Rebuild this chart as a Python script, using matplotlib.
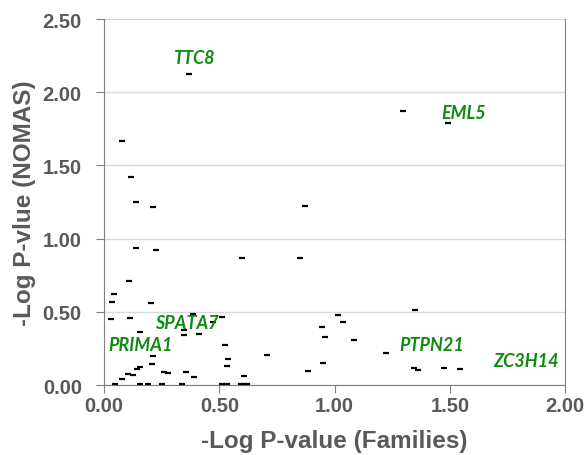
import matplotlib.pyplot as plt

# -log p-values
fam = [0.14, 0.227, 0.60, 0.106, 0.042, 0.036, 0.204, 0.032, 0.114, 0.385,
       0.51, 0.474, 0.158, 0.345, 0.345, 0.413, 0.526, 0.211, 0.536, 0.206,
       0.533, 0.154, 0.144, 0.104, 0.125, 0.079, 0.261, 0.279, 0.356, 0.39,
       0.608, 0.046, 0.154, 0.19, 0.252, 0.339, 0.51, 0.533, 0.594, 0.622,
       0.37, 0.079, 0.118, 0.137, 0.212,
       0.85, 1.014, 1.035, 0.945, 0.957, 1.083, 0.709, 1.223, 0.95, 0.883,
       1.297, 0.87, 1.491, 1.35, 1.343, 1.36, 1.476, 1.542]
nomas = [0.936, 0.924, 0.867, 0.708, 0.624, 0.569, 0.558, 0.449, 0.458, 0.485,
         0.467, 0.432, 0.36, 0.376, 0.344, 0.348, 0.271, 0.196, 0.178, 0.146,
         0.13, 0.121, 0.111, 0.075, 0.068, 0.043, 0.087, 0.08, 0.089, 0.055,
         0.061, 0.01, 0.01, 0.01, 0.01, 0.01, 0.01, 0.01, 0.01, 0.01,
         2.124, 1.665, 1.42, 1.248, 1.218,
         0.867, 0.478, 0.428, 0.394, 0.328, 0.305, 0.205, 0.216, 0.148, 0.093,
         1.874, 1.22, 1.787, 0.514, 0.116, 0.105, 0.116, 0.109]

genes = ["TTC8", "EML5", "SPATA7", "PRIMA1", "PTPN21", "ZC3H14"]
gene_x = [0.39, 1.56, 0.36, 0.16, 1.42, 1.83]
gene_y = [2.24, 1.86, 0.43, 0.28, 0.28, 0.165]

grey = "#595959"

fig = plt.figure(figsize=(5.88, 4.56), dpi=100)
ax = fig.add_axes([0.177, 0.1535, 0.784, 0.8025])

ax.plot(fam, nomas, linestyle="none", marker="_", markersize=5,
        markeredgewidth=1.6, color="black", zorder=3)

for g, gx, gy in zip(genes, gene_x, gene_y):
    ax.text(gx, gy, g, color="#108a10", fontsize=13, fontweight="bold",
            fontstyle="italic", family=["Lato", "DejaVu Sans"],
            ha="center", va="center", zorder=4)

ax.set_xlim(0, 2)
ax.set_ylim(0, 2.5)
ax.set_xticks([0, 0.5, 1, 1.5, 2])
ax.set_yticks([0, 0.5, 1, 1.5, 2, 2.5])
ax.set_xticklabels(["0.00", "0.50", "1.00", "1.50", "2.00"])
ax.set_yticklabels(["0.00", "0.50", "1.00", "1.50", "2.00", "2.50"])
ax.yaxis.grid(True, color="#d9d9d9", linewidth=1)
ax.set_axisbelow(True)

for s in ["left", "bottom", "right"]:
    ax.spines[s].set_color("#7f7f7f")
ax.spines["top"].set_visible(False)
ax.tick_params(direction="out", length=6, color="#7f7f7f", labelcolor=grey,
               labelsize=14.5)
ax.tick_params(axis="x", pad=2)
ax.tick_params(axis="y", pad=10)
for lab in ax.get_xticklabels() + ax.get_yticklabels():
    lab.set_fontweight("bold")
    lab.set_family("Liberation Sans")

ax.set_xlabel("-Log P-value (Families)", fontsize=17.5, fontweight="bold",
              color=grey, family="Liberation Sans", labelpad=10)
ax.set_ylabel("-Log P-vlue (NOMAS)", fontsize=17.5, fontweight="bold",
              color=grey, family="Liberation Sans", labelpad=5)

fig.savefig("out.png", dpi=100)
